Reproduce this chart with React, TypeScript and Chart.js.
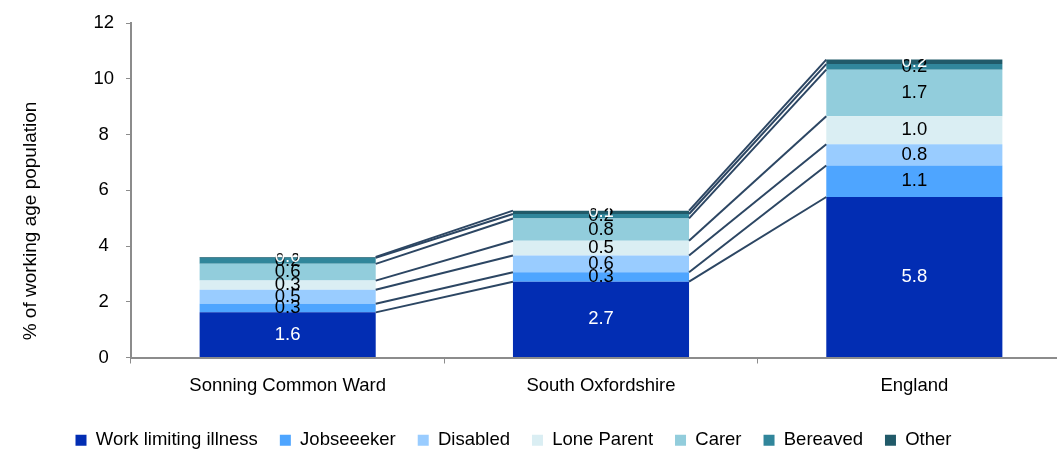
import React, { useEffect, useRef } from "react";
import { Chart, registerables } from "chart.js";

Chart.register(...registerables);

const categories = ["Sonning Common Ward", "South Oxfordshire", "England"];
const seriesNames = ["Work limiting illness", "Jobseeeker", "Disabled", "Lone Parent", "Carer", "Bereaved", "Other"];

const workLimitingIllness = [1.62, 2.72, 5.76];
const jobseeker = [0.31, 0.34, 1.13];
const disabled = [0.5, 0.6, 0.76];
const loneParent = [0.33, 0.53, 1.01];
const carer = [0.6, 0.8, 1.67];
const bereaved = [0.22, 0.16, 0.2];
const other = [0.03, 0.12, 0.16];

const yMin = 0;
const yMax = 12;
const yStep = 2;
const yTitle = "% of working age population";

const seriesValues = [workLimitingIllness, jobseeker, disabled, loneParent, carer, bereaved, other];
const seriesColors = ["#022db3", "#4ea5ff", "#99ccff", "#daeef3", "#92cddc", "#31869b", "#215a69"];
const labelColors = ["#ffffff", "#000000", "#000000", "#000000", "#000000", "#000000", "#ffffff"];

const FONT = '"Liberation Sans", Arial, sans-serif';
const FS = 18.5;
const TITLE_FS = 19;

const overlayPlugin = {
  id: "overlay",
  afterLayout(chart: any) {
    const l = chart.legend;
    if (l) {
      const h = l.height;
      l.left = 0;
      l.right = 1027;
      l.width = 1027;
      l.top = 409;
      l.bottom = 409 + h;
    }
  },
  afterDatasetsDraw(chart: any) {
    const ctx = chart.ctx;
    ctx.save();
    ctx.strokeStyle = "#2c4663";
    ctx.lineWidth = 2;
    chart.data.datasets.forEach((_ds: any, i: number) => {
      const meta = chart.getDatasetMeta(i);
      for (let j = 0; j < meta.data.length - 1; j++) {
        const a = meta.data[j];
        const b = meta.data[j + 1];
        ctx.beginPath();
        ctx.moveTo(a.x + a.width / 2, a.y);
        ctx.lineTo(b.x - b.width / 2, b.y);
        ctx.stroke();
      }
    });
    ctx.font = `${FS}px ${FONT}`;
    ctx.textAlign = "center";
    ctx.textBaseline = "middle";
    chart.data.datasets.forEach((ds: any, i: number) => {
      const meta = chart.getDatasetMeta(i);
      meta.data.forEach((bar: any, j: number) => {
        ctx.fillStyle = labelColors[i];
        ctx.fillText(Number(ds.data[j]).toFixed(1), bar.x, (bar.y + bar.base) / 2);
      });
    });
    ctx.restore();
  },
  afterDraw(chart: any) {
    const ctx = chart.ctx;
    ctx.save();
    ctx.translate(31, 221);
    ctx.rotate(-Math.PI / 2);
    ctx.font = `${TITLE_FS}px ${FONT}`;
    ctx.fillStyle = "#000";
    ctx.textAlign = "center";
    ctx.textBaseline = "middle";
    ctx.fillText(yTitle, 0, 0);
    ctx.restore();
  },
};

export default function App() {
  const ref = useRef<HTMLCanvasElement | null>(null);
  useEffect(() => {
    if (!ref.current) return;
    Chart.defaults.font.family = FONT;
    Chart.defaults.font.size = FS;
    Chart.defaults.color = "#000";
    const chart = new Chart(ref.current, {
      type: "bar",
      data: {
        labels: categories,
        datasets: seriesNames.map((name, i) => ({
          label: name,
          data: seriesValues[i],
          backgroundColor: seriesColors[i],
          borderWidth: 0,
          categoryPercentage: 1,
          barPercentage: 0.562,
        })),
      },
      options: {
        animation: false,
        responsive: false,
        devicePixelRatio: 1,
        layout: { padding: { top: 22, right: 1, bottom: 0, left: 0 } },
        plugins: {
          legend: {
            position: "bottom",
            labels: { boxWidth: 11, boxHeight: 11, padding: 22, font: { size: FS, family: FONT }, color: "#000" },
          },
          tooltip: { enabled: false },
          title: { display: false },
        },
        scales: {
          x: {
            stacked: true,
            grid: { display: true, drawOnChartArea: false, drawTicks: true, tickLength: 6, color: "#8c8c8c", lineWidth: 1 },
            border: { color: "#8c8c8c", width: 2 },
            ticks: { padding: 11, font: { size: FS, family: FONT }, color: "#000" },
            afterFit: (s: any) => { s.height = 42; },
          },
          y: {
            stacked: true,
            min: yMin,
            max: yMax,
            ticks: { stepSize: yStep, crossAlign: "center", padding: 12, font: { size: FS, family: FONT }, color: "#000" },
            grid: { display: true, drawOnChartArea: false, drawTicks: true, tickLength: 5, color: "#8c8c8c", lineWidth: 1 },
            border: { color: "#8c8c8c", width: 2 },
            afterFit: (s: any) => { s.width = 131; },
          },
        },
      },
      plugins: [overlayPlugin],
    });
    return () => chart.destroy();
  }, []);
  return (
    <div style={{ position: "fixed", left: 0, top: 0, width: 1057, height: 450, overflow: "hidden", background: "#fff" }}>
      <canvas ref={ref} width={1072} height={450} style={{ position: "absolute", left: 0, top: 0, width: 1072, height: 450 }} />
    </div>
  );
}
